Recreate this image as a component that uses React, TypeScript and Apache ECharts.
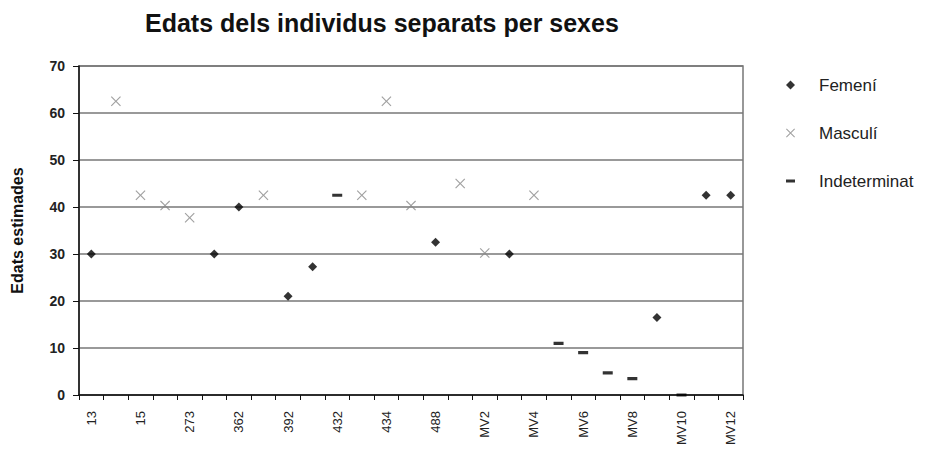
import React, { useEffect, useRef } from "react";
import * as echarts from "echarts";

const categories = [
  "13", "14", "15", "16", "273", "281", "362", "371", "392", "401", "432", "433", "434", "435",
  "488", "MV1", "MV2", "MV3", "MV4", "MV5", "MV6", "MV7", "MV8", "MV9", "MV10", "MV11", "MV12",
];
const femeni = [
  30, null, null, null, null, 30, 40, null, 21, 27.3, null, null, null, null,
  32.5, null, null, 30, null, null, null, null, null, 16.5, null, 42.5, 42.5,
];
const masculi = [
  null, 62.5, 42.5, 40.3, 37.7, null, null, 42.5, null, null, null, 42.5, 62.5, 40.3,
  null, 45, 30.2, null, 42.5, null, null, null, null, null, null, null, null,
];
const indeterminat = [
  null, null, null, null, null, null, null, null, null, null, 42.5, null, null, null,
  null, null, null, null, null, 11, 9, 4.7, 3.5, null, 0, null, null,
];
const yTicks = [0, 10, 20, 30, 40, 50, 60, 70];

const FONT = "'Liberation Sans', Arial, sans-serif";
const X_PATH =
  "path://M0,0.8L0.8,0L5,4.2L9.2,0L10,0.8L5.8,5L10,9.2L9.2,10L5,5.8L0.8,10L0,9.2L4.2,5Z";
const DASH_PATH =
  "path://M0,0L0.01,0L0,0.01Z M0,3.4L10,3.4L10,6.6L0,6.6Z M10,10L9.99,10L10,9.99Z";

export default function App() {
  const ref = useRef<HTMLDivElement>(null);
  useEffect(() => {
    if (!ref.current) return;
    const chart = echarts.init(ref.current, undefined, { renderer: "svg" });
    chart.setOption({
      animation: false,
      backgroundColor: "#fff",
      title: {
        text: "Edats dels individus separats per sexes",
        left: 137,
        top: 2,
        padding: 0,
        textStyle: { fontFamily: FONT, fontSize: 25, fontWeight: "bold", color: "#111" },
      },
      grid: {
        left: 71,
        top: 58,
        width: 664,
        height: 329,
        containLabel: false,
        outerBoundsMode: "none",
      },
      legend: {
        orient: "vertical",
        left: 773,
        top: 63,
        itemWidth: 9,
        itemHeight: 9,
        itemGap: 30,
        textStyle: {
          fontFamily: FONT,
          fontSize: 17,
          lineHeight: 18,
          color: "#222",
          padding: [0, 0, 0, 19],
        },
        data: ["Femení", "Masculí", "Indeterminat"],
      },
      xAxis: {
        type: "category",
        data: categories,
        boundaryGap: true,
        axisLine: { lineStyle: { color: "#111", width: 1.5 } },
        axisTick: { show: true, interval: 0, length: 5, lineStyle: { color: "#111" } },
        axisLabel: {
          interval: 1,
          rotate: 90,
          fontFamily: FONT,
          fontSize: 13,
          color: "#222",
          margin: 16,
        },
        splitLine: { show: false },
      },
      yAxis: {
        type: "value",
        min: 0,
        max: 70,
        interval: 10,
        name: "Edats estimades",
        nameLocation: "middle",
        nameGap: 54,
        nameRotate: 90,
        nameTextStyle: { fontFamily: FONT, fontSize: 16, fontWeight: "bold", color: "#111" },
        axisLine: { show: true, lineStyle: { color: "#111", width: 1.5 } },
        axisTick: { show: true, length: 6, lineStyle: { color: "#111" } },
        axisLabel: {
          fontFamily: FONT,
          fontSize: 14,
          fontWeight: "bold",
          color: "#222",
          margin: 14,
          formatter: (v: number) => (yTicks.includes(v) ? String(v) : ""),
        },
        splitLine: { show: true, lineStyle: { color: "#777", width: 1.5 } },
      },
      graphic: [
        {
          type: "rect",
          shape: { x: 71, y: 58, width: 664, height: 329 },
          style: { fill: "none", stroke: "#777", lineWidth: 1.5 },
          silent: true,
          z: -1,
        },
      ],
      series: [
        {
          name: "Femení",
          type: "scatter",
          data: femeni,
          symbol: "diamond",
          symbolSize: 9,
          itemStyle: { color: "#000" },
        },
        {
          name: "Masculí",
          type: "scatter",
          data: masculi,
          symbol: X_PATH,
          symbolSize: 10,
          symbolKeepAspect: true,
          itemStyle: { color: "#888" },
        },
        {
          name: "Indeterminat",
          type: "scatter",
          data: indeterminat,
          symbol: DASH_PATH,
          symbolSize: 10,
          symbolKeepAspect: true,
          itemStyle: { color: "#000" },
        },
      ],
    });
    return () => chart.dispose();
  }, []);
  return <div ref={ref} style={{ width: 914, height: 441 }} />;
}
